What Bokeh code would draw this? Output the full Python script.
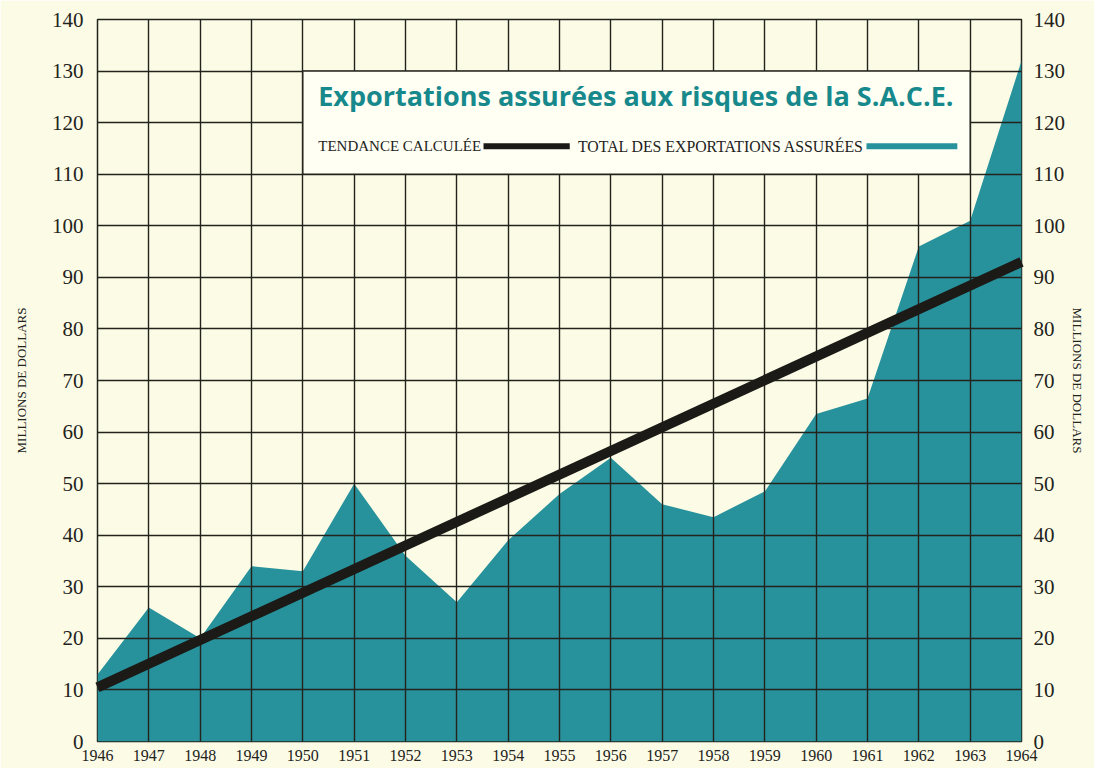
from bokeh.plotting import figure
from bokeh.models import LinearAxis, Range1d, FixedTicker
from bokeh.core.properties import value
from bokeh.embed import file_html
from bokeh.resources import INLINE

# ---- data ----
years = list(range(1946, 1965))
total = [13, 26, 20, 34, 33, 50, 36, 27, 39, 48, 55, 46, 43.5, 48.5, 63.5, 66.5, 96, 101, 132]
trend_years = [1946, 1964]
trend = [10.5, 93]
y_ticks = list(range(0, 141, 10))
title_text = "Exportations assurées aux risques de la S.A.C.E."
legend_labels = ["TENDANCE CALCULÉE", "TOTAL DES EXPORTATIONS ASSURÉES"]
axis_title = "MILLIONS DE DOLLARS"

# ---- styles ----
BG = "#fcfce6"
TEAL = "#28929c"
TITLE_TEAL = "#17898c"
INK = "#23231c"
GRID = "#23231c"

p = figure(width=1094, height=768,
           x_range=Range1d(1946, 1964), y_range=Range1d(0, 140),
           output_backend="svg", toolbar_location=None,
           min_border_left=97, min_border_right=73,
           min_border_top=19, min_border_bottom=27,
           background_fill_color=BG, border_fill_color=BG,
           outline_line_color=GRID, outline_line_width=1.5)

yt = FixedTicker(ticks=y_ticks)
xt = FixedTicker(ticks=years)

p.xaxis.ticker = xt
p.yaxis.ticker = yt
p.add_layout(LinearAxis(ticker=yt), "right")

for i, ax in enumerate(p.yaxis):
    ax.axis_line_color = None
    ax.major_tick_line_color = None
    ax.minor_tick_line_color = None
    ax.major_tick_out = 0
    ax.major_tick_in = 0
    ax.minor_tick_out = 0
    ax.major_label_text_font = "Liberation Serif"
    ax.major_label_text_font_size = "21px"
    ax.major_label_text_color = INK
    ax.major_label_standoff = 14 if i == 0 else 12
    ax.axis_label = axis_title
    ax.axis_label_text_font = "Liberation Serif"
    ax.axis_label_text_font_size = "13px"
    ax.axis_label_text_font_style = "normal"
    ax.axis_label_text_color = INK
    ax.axis_label_standoff = 20 if i == 0 else 2

p.xaxis.axis_line_color = None
p.xaxis.major_tick_line_color = None
p.xaxis.minor_tick_line_color = None
p.xaxis.major_tick_out = 0
p.xaxis.minor_tick_out = 0
p.xaxis.major_label_text_font = "Liberation Serif"
p.xaxis.major_label_text_font_size = "16px"
p.xaxis.major_label_text_color = INK
p.xaxis.major_label_standoff = 8

p.xgrid.ticker = xt
p.ygrid.ticker = yt
for g in (p.xgrid[0], p.ygrid[0]):
    g.grid_line_color = GRID
    g.grid_line_width = 1.4
    g.level = "glyph"

# area of total insured exports
area = p.varea(x=years, y1=0, y2=total, fill_color=TEAL)
area.level = "underlay"

# white caption box
box = p.quad(left=[1950], right=[1963], bottom=[110], top=[130],
             fill_color="#fffff4", line_color=GRID, line_width=1.4)
box.level = "annotation"

# trend line
tr = p.line(trend_years, trend, line_width=10, line_color="#1b1a17", line_cap="butt")
tr.level = "overlay"

# caption title
t1 = p.text(x=[1950.3], y=[125.3], text=[title_text],
            text_font=value("Open Sans"), text_font_style="bold",
            text_font_size="27px", text_color=TITLE_TEAL,
            text_baseline="middle", text_align="left")
t1.level = "overlay"

# legend row
t2 = p.text(x=[1950.3], y=[115.4], text=[legend_labels[0]],
            text_font=value("Liberation Serif"), text_font_size="15px",
            text_color=INK, text_baseline="middle", text_align="left")
t2.level = "overlay"
t3 = p.text(x=[1955.36], y=[115.4], text=[legend_labels[1]],
            text_font=value("Liberation Serif"), text_font_size="15.8px",
            text_color=INK, text_baseline="middle", text_align="left")
t3.level = "overlay"
s1 = p.segment(x0=[1953.52], y0=[115.4], x1=[1955.2], y1=[115.4],
               line_color="#1b1a17", line_width=6, line_cap="butt")
s1.level = "overlay"
s2 = p.segment(x0=[1960.98], y0=[115.4], x1=[1962.75], y1=[115.4],
               line_color=TEAL, line_width=6, line_cap="butt")
s2.level = "overlay"

open("out.html", "w").write(file_html(p, INLINE))
